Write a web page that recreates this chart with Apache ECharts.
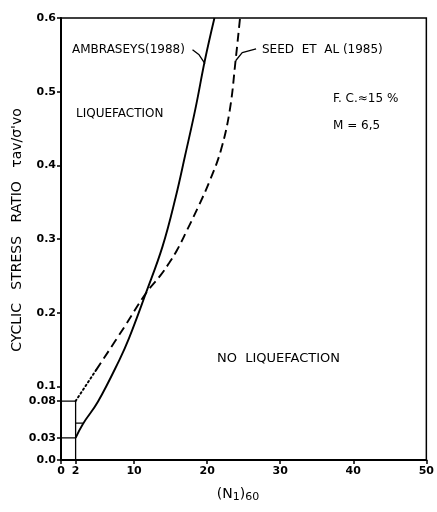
<!DOCTYPE html>
<html>
<head>
<meta charset="utf-8">
<script src="https://cdn.jsdelivr.net/npm/echarts@6/dist/echarts.min.js"></script>
<style>
  html, body { margin: 0; padding: 0; background: #fff; }
  #chart { width: 437px; height: 512px; }
</style>
</head>
<body>
<div id="chart"></div>
<script>
// values, x = (N1)60, y = cyclic stress ratio
var ambraseys = [[2, 0.03], [3.0, 0.049], [5.05, 0.079], [8.0, 0.136], [9.3, 0.165],
  [11.6, 0.226], [13.9, 0.29], [15.7, 0.357], [17.0, 0.414], [18.4, 0.477], [19.7, 0.543], [21.0, 0.6]];
var seedDotted = [[2, 0.08], [4.8, 0.122]];
var seedDashed = [[4.8, 0.122], [8.7, 0.181], [11.6, 0.226], [13.64, 0.251], [14.77, 0.267],
  [15.89, 0.285], [17.25, 0.312], [18.8, 0.344], [20.4, 0.38], [21.9, 0.421], [23.1, 0.475],
  [23.9, 0.543], [24.5, 0.6]];
var boxUpper = [[0, 0.08], [2, 0.08], [2, 0]];
var boxLower = [[0, 0.03], [2, 0.03]];
var stepMark = [[2, 0.05], [3.0, 0.05]];
var leaderAmb = [[18.0, 0.557], [18.9, 0.55], [19.7, 0.538]];
var leaderSeed = [[23.9, 0.542], [24.8, 0.553], [26.7, 0.558]];
var xTicks = [0, 2, 10, 20, 30, 40, 50];
var yTicks = [0, 0.03, 0.08, 0.1, 0.2, 0.3, 0.4, 0.5, 0.6];

var FONT = 'DejaVu Sans';
var chart = echarts.init(document.getElementById('chart'));

function lineSeries(data, width, type) {
  return {
    type: 'line', data: data, showSymbol: false, symbol: 'none', silent: true,
    lineStyle: { color: '#000', width: width, type: type || 'solid' }
  };
}

var amb = lineSeries(ambraseys, 1.9);
amb.smooth = 0.4;
var dashed = lineSeries(seedDashed, 1.9, [9, 5]);
dashed.smooth = 0.4;
var dotted = lineSeries(seedDotted, 2, [1.5, 3]);
dotted.lineStyle.cap = 'round';

function label(text, left, top, size) {
  return { type: 'text', left: left, top: top, style: { text: text, font: size + 'px ' + FONT, fill: '#000' } };
}

chart.setOption({
  animation: false,
  grid: { left: 61, right: 7, top: 18, bottom: 52, show: true, borderColor: '#000', borderWidth: 1.5 },
  xAxis: {
    type: 'value', min: 0, max: 50,
    splitLine: { show: false },
    axisLine: { lineStyle: { color: '#000', width: 2 } },
    axisTick: { customValues: xTicks, length: 4, lineStyle: { color: '#000', width: 1.5 } },
    axisLabel: { customValues: xTicks, color: '#000', fontFamily: FONT, fontSize: 11, fontWeight: 'bold', margin: 6 }
  },
  yAxis: {
    type: 'value', min: 0, max: 0.6,
    splitLine: { show: false },
    axisLine: { lineStyle: { color: '#000', width: 2 } },
    axisTick: { customValues: yTicks, length: 4, lineStyle: { color: '#000', width: 1.5 } },
    axisLabel: {
      customValues: yTicks, color: '#000', fontFamily: FONT, fontSize: 11, fontWeight: 'bold', margin: 5,
      formatter: function (v) {
        if (v === 0) return '0.0';
        return String(Math.round(v * 100) / 100);
      }
    }
  },
  series: [
    amb, dashed, dotted,
    lineSeries(boxUpper, 1.3),
    lineSeries(boxLower, 1.3),
    lineSeries(stepMark, 1.2),
    lineSeries(leaderAmb, 1.3),
    lineSeries(leaderSeed, 1.3)
  ],
  graphic: [
    label('AMBRASEYS(1988)', 72, 44, 12),
    label('SEED  ET  AL (1985)', 262, 44, 12),
    label('LIQUEFACTION', 76, 108, 12),
    label('F. C.≈15 %', 333, 93, 12),
    label('M = 6,5', 333, 120, 12),
    label('NO  LIQUEFACTION', 217, 352, 13),
    {
      type: 'text', x: 17, y: 230, rotation: Math.PI / 2,
      style: {
        text: "CYCLIC   STRESS   RATIO   τav/σ'vo", font: '14px ' + FONT, fill: '#000',
        align: 'center', verticalAlign: 'middle'
      }
    },
    {
      type: 'text', x: 238, y: 494,
      style: {
        text: '(N{s|1}){s|60}', font: '14px ' + FONT, fill: '#000', align: 'center', verticalAlign: 'middle',
        rich: { s: { fontSize: 11, fontFamily: FONT, verticalAlign: 'bottom', padding: [6, 0, 0, 0] } }
      }
    }
  ]
});
</script>
</body>
</html>
